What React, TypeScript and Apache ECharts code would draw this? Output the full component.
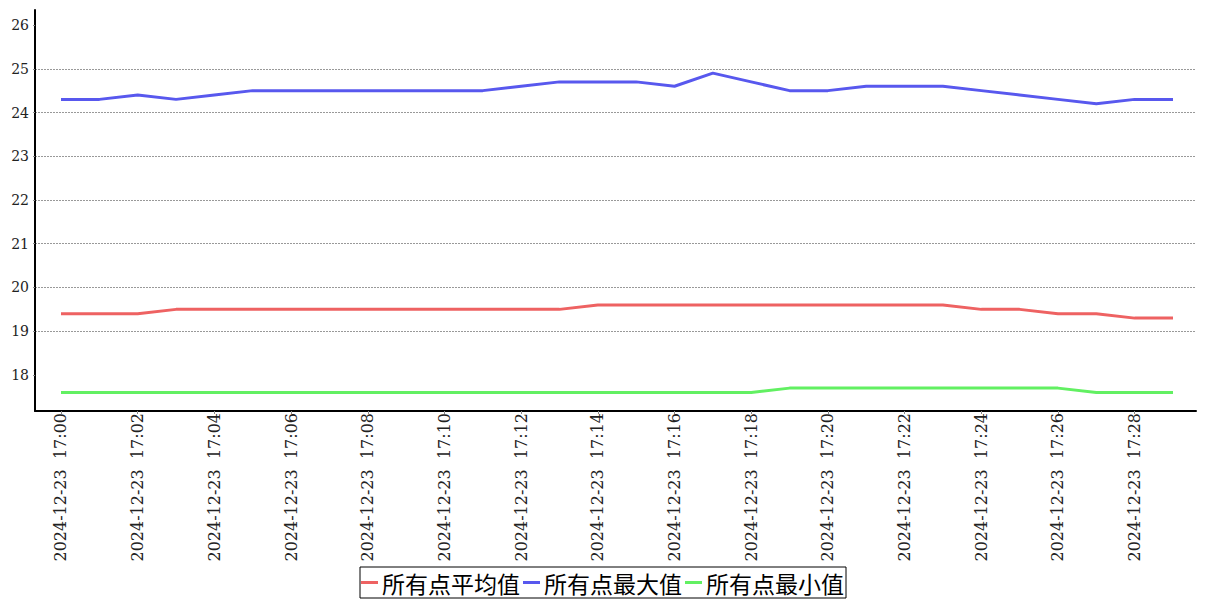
import React, { useEffect, useRef } from "react";
import * as echarts from "echarts";

const minutes: number[] = [0,1,2,3,4,5,6,7,8,9,10,11,12,13,14,15,16,17,18,19,20,21,22,23,24,25,26,27,28,29];
const avgValues: number[] = [19.4,19.4,19.4,19.5,19.5,19.5,19.5,19.5,19.5,19.5,19.5,19.5,19.5,19.5,19.6,19.6,19.6,19.6,19.6,19.6,19.6,19.6,19.6,19.6,19.5,19.5,19.4,19.4,19.3,19.3];
const maxValues: number[] = [24.3,24.3,24.4,24.3,24.4,24.5,24.5,24.5,24.5,24.5,24.5,24.5,24.6,24.7,24.7,24.7,24.6,24.9,24.7,24.5,24.5,24.6,24.6,24.6,24.5,24.4,24.3,24.2,24.3,24.3];
const minValues: number[] = [17.6,17.6,17.6,17.6,17.6,17.6,17.6,17.6,17.6,17.6,17.6,17.6,17.6,17.6,17.6,17.6,17.6,17.6,17.6,17.7,17.7,17.7,17.7,17.7,17.7,17.7,17.7,17.6,17.6,17.6];
const seriesNames: string[] = ["所有点平均值", "所有点最大值", "所有点最小值"];
const seriesColors: string[] = ["#ee6262", "#5858ee", "#62f062"];
const xTickValues: number[] = [0,2,4,6,8,10,12,14,16,18,20,22,24,26,28];
const yTickValues: number[] = [18,19,20,21,22,23,24,25,26];
const datePrefix = "2024-12-23";

const fmtTime = (m: number) => {
  const mm = Math.round(m);
  return `${datePrefix}  17:${mm < 10 ? "0" + mm : mm}`;
};

export default function App() {
  const ref = useRef<HTMLDivElement>(null);
  useEffect(() => {
    document.body.style.margin = "0";
    const chart = echarts.init(ref.current!, null, { renderer: "svg" });
    const allSeries = [avgValues, maxValues, minValues];
    chart.setOption({
      animation: false,
      backgroundColor: "#ffffff",
      grid: { left: 35, right: 11, top: 10, bottom: 189, containLabel: false },
      legend: {
        data: seriesNames,
        bottom: 2,
        left: 360,
        icon: "rect",
        itemWidth: 17,
        itemHeight: 3,
        itemGap: 3,
        borderColor: "#000",
        borderWidth: 1,
        borderRadius: 0,
        padding: [4, 2, 4, 1],
        textStyle: { fontFamily: "Noto Sans CJK SC", fontSize: 23, color: "#000", padding: [0, 0, 0, -1] },
      },
      xAxis: {
        type: "value",
        min: -0.678,
        max: 29.6,
        splitLine: { show: false },
        axisLine: { show: true, onZero: false, lineStyle: { color: "#000", width: 2 } },
        axisTick: { show: true, customValues: xTickValues, length: 3, lineStyle: { color: "#888" } },
        axisLabel: {
          customValues: xTickValues,
          rotate: 90,
          margin: 2,
          formatter: (v: number) => fmtTime(v),
          fontFamily: "DejaVu Serif",
          fontSize: 16,
          color: "#222",
        },
      },
      yAxis: {
        type: "value",
        min: 17.177,
        max: 26.343,
        axisLine: { show: true, onZero: false, lineStyle: { color: "#000", width: 2 } },
        axisTick: { show: true, customValues: yTickValues, length: 2, lineStyle: { color: "#888" } },
        axisLabel: {
          customValues: yTickValues,
          margin: 6,
          fontFamily: "DejaVu Serif",
          fontSize: 14,
          color: "#222",
        },
        splitLine: {
          show: true,
          showMinLine: false,
          showMaxLine: false,
          lineStyle: { color: "#999", type: [2, 1], width: 1 },
        },
      },
      series: seriesNames.map((name, si) => ({
        name,
        type: "line",
        showSymbol: false,
        symbol: "none",
        color: seriesColors[si],
        lineStyle: { width: 3, color: seriesColors[si] },
        data: minutes.map((m, i) => [m, allSeries[si][i]]),
      })),
    });
    return () => chart.dispose();
  }, []);
  return <div ref={ref} style={{ width: 1207, height: 600 }} />;
}
